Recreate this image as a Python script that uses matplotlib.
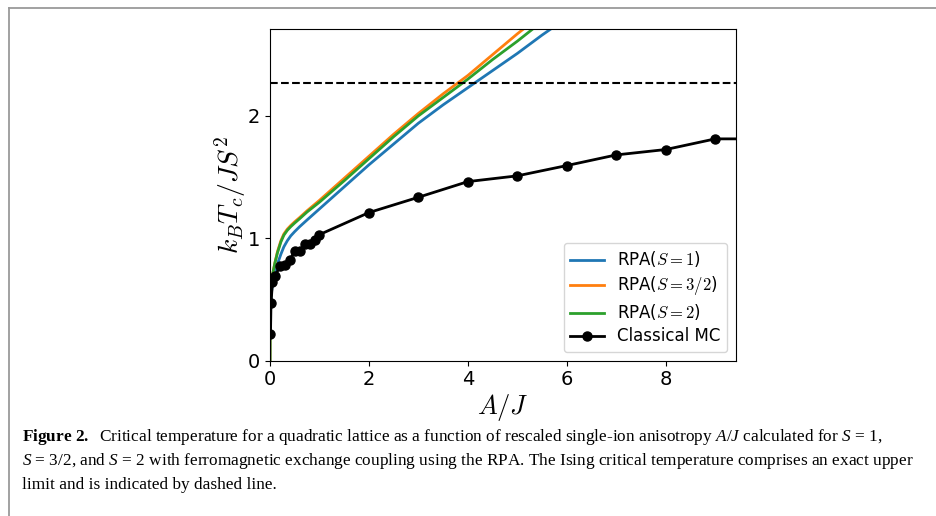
import matplotlib
matplotlib.use("Agg")
import matplotlib.pyplot as plt
from matplotlib.lines import Line2D

plt.rcParams['mathtext.fontset'] = 'cm'
plt.rcParams['mathtext.rm'] = 'Liberation Serif'
plt.rcParams['mathtext.it'] = 'Liberation Serif:italic'
plt.rcParams['mathtext.bf'] = 'Liberation Serif:bold'

# RPA curves
rpa_x = [0, 0.002, 0.01, 0.03, 0.06, 0.1, 0.15, 0.22, 0.28, 0.35, 0.42, 0.5, 0.6, 0.75,
         1.0, 1.5, 2.0, 2.5, 3.0, 3.5, 4.0, 4.5, 5.0, 5.5, 6.0]
rpa_s1 = [0, 0.25, 0.42, 0.56, 0.65, 0.72, 0.79, 0.87, 0.93, 0.98, 1.02, 1.055, 1.095, 1.15,
          1.24, 1.42, 1.60, 1.77, 1.94, 2.09, 2.23, 2.37, 2.51, 2.66, 2.80]
rpa_s32 = [0, 0.30, 0.48, 0.62, 0.72, 0.80, 0.89, 0.98, 1.035, 1.075, 1.105, 1.135, 1.17, 1.225,
           1.31, 1.49, 1.67, 1.85, 2.02, 2.18, 2.33, 2.50, 2.67, 2.83, 2.99]
rpa_s2 = [0, 0.30, 0.48, 0.62, 0.72, 0.80, 0.88, 0.97, 1.025, 1.065, 1.095, 1.125, 1.16, 1.215,
          1.295, 1.47, 1.65, 1.83, 2.00, 2.15, 2.30, 2.46, 2.61, 2.77, 2.93]

# classical Monte Carlo
mc_x = [0.01, 0.02, 0.05, 0.1, 0.2, 0.3, 0.4, 0.5, 0.6, 0.7, 0.8, 0.9, 1.0,
        2, 3, 4, 5, 6, 7, 8, 9, 10]
mc_y = [0.22, 0.47, 0.64, 0.69, 0.77, 0.78, 0.82, 0.90, 0.90, 0.95, 0.95, 0.99, 1.03,
        1.21, 1.335, 1.463, 1.51, 1.594, 1.681, 1.725, 1.812, 1.812]

ising_tc = 2.269

caption = [
    r"$\mathbf{Figure\ 2.}$  Critical temperature for a quadratic lattice as a function of "
    r"rescaled single-ion anisotropy $A/J$ calculated for $S$ = 1,",
    r"$S$ = 3/2, and $S$ = 2 with ferromagnetic exchange coupling using the RPA. "
    r"The Ising critical temperature comprises an exact upper",
    r"limit and is indicated by dashed line.",
]

W, H = 937, 516
fig = plt.figure(figsize=(W / 100, H / 100), dpi=100)
ax = fig.add_axes([270 / W, 1 - 360.7 / H, (736 - 270) / W, (360.7 - 29.3) / H])

ax.plot(rpa_x, rpa_s1, color='#1f77b4', lw=2, label=r'RPA($S=1$)')
ax.plot(rpa_x, rpa_s32, color='#ff7f0e', lw=2, label=r'RPA($S=3/2$)')
ax.plot(rpa_x, rpa_s2, color='#2ca02c', lw=2, label=r'RPA($S=2$)')
ax.plot(mc_x, mc_y, 'o-', color='black', lw=2, ms=6.5, label='Classical MC')
ax.axhline(ising_tc, color='black', ls='--', lw=1.5)

ax.set_xlim(0, 9.42)
ax.set_ylim(0, 2.707)
ax.set_xticks([0, 2, 4, 6, 8])
ax.set_yticks([0, 1, 2])
ax.tick_params(labelsize=14)
ax.set_xlabel(r'$A/J$', fontsize=19, labelpad=2)
ax.set_ylabel(r'$k_BT_c/JS^2$', fontsize=20, labelpad=0)
ax.legend(loc='lower right', fontsize=12, labelspacing=0.3, borderaxespad=0,
          bbox_to_anchor=(0.981, 0.026))

# page frame
fig.add_artist(Line2D([9 / W, 1], [1 - 7.5 / H] * 2, color='#9a9a9a', lw=1.3))
fig.add_artist(Line2D([9.5 / W] * 2, [0, 1 - 7.5 / H], color='#9a9a9a', lw=1.3))

for i, line in enumerate(caption):
    fig.text(22 / W, 1 - (437 + 24 * i) / H, line, fontsize=12.4, va='center',
             family='Liberation Serif', math_fontfamily='custom', color='black')

fig.savefig('out.png', dpi=100)
